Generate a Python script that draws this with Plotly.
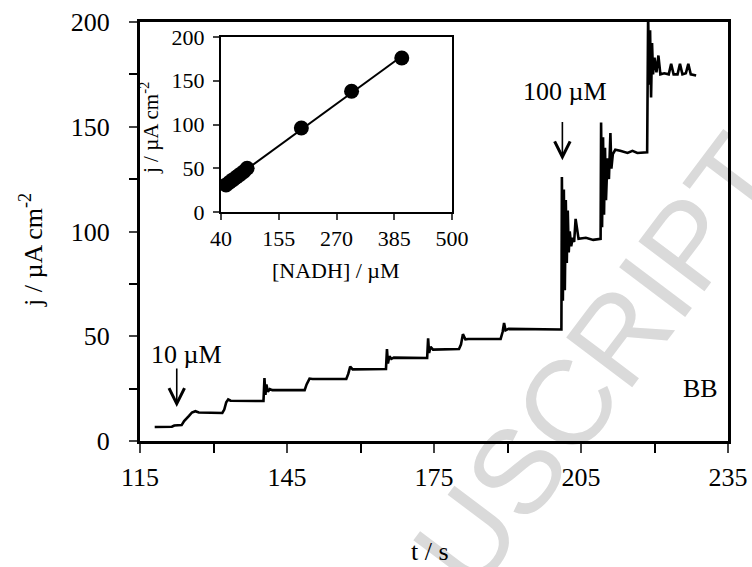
import plotly.graph_objects as go
import numpy as np

# ---------------- data ----------------
# main chronoamperogram (time in s, current density in uA cm-2)
t_s = [118.0, 121.5, 122.0, 123.5, 124.0, 124.5, 125.0, 125.6, 126.3, 127.0, 131.8,
       132.2, 132.6, 133.0, 133.5, 140.2,
       140.4, 140.6, 140.8, 141.1, 141.5, 142.0, 148.6,
       149.0, 149.6, 150.2, 157.1,
       157.5, 157.9, 158.4, 165.2,
       165.4, 165.6, 165.9, 166.3, 166.8, 173.6,
       173.8, 174.0, 174.3, 174.8, 180.1,
       180.5, 180.9, 181.4, 182.0, 188.6,
       189.0, 189.3, 189.6, 190.2, 201.0,
       201.1, 201.3, 201.5, 201.7, 201.9, 202.1, 202.3, 202.5, 202.7, 203.0, 203.3, 203.6,
       203.9, 204.5, 206.0, 207.5, 209.0,
       209.1, 209.3, 209.5, 209.7, 209.9, 210.1, 210.4, 210.7, 211.0, 211.2, 211.5, 212.0,
       213.0, 214.5, 215.5, 216.5, 218.5,
       218.7, 218.9, 219.1, 219.3, 219.5, 219.7, 220.0, 220.4, 220.8, 221.2, 222.0, 222.9,
       223.4, 223.9, 224.7, 225.2, 225.7, 226.4, 226.9, 227.4, 228.5]
j_vals = [6.7, 6.8, 7.4, 7.6, 9.5, 11.0, 12.0, 13.6, 14.2, 13.6, 13.4,
          15.0, 18.5, 19.8, 19.2, 19.1,
          30.0, 22.0, 27.0, 23.5, 24.8, 24.3, 24.3,
          27.0, 29.8, 29.6, 29.6,
          32.0, 35.5, 34.2, 34.4,
          43.9, 37.0, 40.5, 39.2, 39.8, 39.6,
          49.0, 42.0, 45.0, 43.6, 43.9,
          46.0, 51.0, 48.5, 48.7, 48.7,
          52.0, 56.3, 52.8, 53.5, 53.2,
          126.0, 67.0, 120.0, 72.0, 115.0, 85.0, 110.0, 90.0, 100.0, 93.0, 97.0, 95.0,
          106.0, 96.5, 97.0, 96.0, 96.5,
          152.0, 102.0, 145.0, 108.0, 140.0, 115.0, 135.0, 125.0, 147.0, 130.0, 137.0, 139.0,
          138.5, 137.5, 138.5, 137.5, 137.8,
          204.0, 170.0, 196.0, 164.0, 190.0, 175.0, 183.0, 176.0, 184.0, 175.0, 175.5, 175.0,
          180.0, 175.0, 175.0, 180.0, 175.0, 175.5, 180.0, 175.0, 174.5]

# inset calibration data
nadh_um = [50, 57, 64, 71, 78, 85, 92, 200, 300, 400]
j_cal = [31, 34, 37, 40, 43, 46, 50, 96, 138, 176]

main_xticks = [115, 145, 175, 205, 235]
main_yticks = [0, 50, 100, 150, 200]
inset_xticks = [40, 155, 270, 385, 500]
inset_yticks = [0, 50, 100, 150, 200]

# ---------------- figure ----------------
FONT = "Liberation Serif"
W, H = 752, 567
L, R, T, B = 140, 24, 22, 126
pw, ph = W - L - R, H - T - B

def px(xp):
    return (xp - L) / pw

def py(yp):
    return (H - B - yp) / ph

fig = go.Figure()

fig.add_trace(go.Scatter(x=t_s, y=j_vals, mode="lines",
                         line=dict(color="black", width=2.6),
                         xaxis="x", yaxis="y", showlegend=False, hoverinfo="skip"))

slope, icpt = np.polyfit(nadh_um, j_cal, 1)
fit_x = [min(nadh_um), max(nadh_um)]
fit_y = [slope * v + icpt for v in fit_x]
fig.add_trace(go.Scatter(x=fit_x, y=fit_y, mode="lines",
                         line=dict(color="black", width=2),
                         xaxis="x2", yaxis="y2", showlegend=False, hoverinfo="skip"))
fig.add_trace(go.Scatter(x=nadh_um, y=j_cal, mode="markers",
                         marker=dict(color="black", size=15),
                         xaxis="x2", yaxis="y2", showlegend=False, hoverinfo="skip"))

tick_main = dict(family=FONT, size=26, color="black")
tick_in = dict(family=FONT, size=22, color="black")

fig.update_layout(
    width=W, height=H,
    margin=dict(l=L, r=R, t=T, b=B, autoexpand=False),
    paper_bgcolor="white", plot_bgcolor="rgba(0,0,0,0)",
    font=dict(family=FONT, color="black"),
    xaxis=dict(range=[115, 235], tickvals=main_xticks, ticks="outside", ticklen=9, tickwidth=2,
               minor=dict(dtick=15, tick0=115, ticks="outside", ticklen=9, tickwidth=2, tickcolor="black"),
               showline=True, linewidth=3, linecolor="black", mirror=True, automargin=False,
               showgrid=False, zeroline=False, tickfont=tick_main, ticklabelstandoff=2),
    yaxis=dict(range=[0, 200], tickvals=main_yticks, ticks="outside", ticklen=8, tickwidth=2,
               minor=dict(dtick=25, tick0=0, ticks="outside", ticklen=8, tickwidth=2, tickcolor="black"),
               showline=True, linewidth=3, linecolor="black", mirror=True, automargin=False,
               showgrid=False, zeroline=False, tickfont=tick_main, ticklabelstandoff=14),
    xaxis2=dict(domain=[px(221), px(452)], anchor="y2", range=[40, 500], tickvals=inset_xticks,
                ticks="outside", ticklen=6, tickwidth=2, showline=True, linewidth=2,
                linecolor="black", mirror=True, showgrid=False, zeroline=False, tickfont=tick_in),
    yaxis2=dict(domain=[py(212), py(37)], anchor="x2", range=[0, 200], tickvals=inset_yticks,
                ticks="outside", ticklen=6, tickwidth=2, showline=True, linewidth=2,
                linecolor="black", mirror=True, showgrid=False, zeroline=False, tickfont=tick_in,
                ticklabelstandoff=4),
)

C = dict(xanchor="center", yanchor="middle", showarrow=False)
ann = []
# axis titles
ann.append(dict(text="t / s", xref="paper", yref="paper", x=px(430), y=py(551),
                font=dict(family=FONT, size=26), **C))
ann.append(dict(text="j / µA cm<sup>-2</sup>", xref="paper", yref="paper", x=px(31), y=py(250),
                textangle=-90, font=dict(family=FONT, size=26), **C))
ann.append(dict(text="[NADH] / µM", xref="paper", yref="paper", x=px(336), y=py(270),
                font=dict(family=FONT, size=22), **C))
ann.append(dict(text="j / µA cm<sup>-2</sup>", xref="paper", yref="paper", x=px(149), y=py(128),
                textangle=-90, font=dict(family=FONT, size=21), **C))
# labels in plot
ann.append(dict(text="10 µM", x=124.5, y=41.5, xref="x", yref="y",
                font=dict(family=FONT, size=26), **C))
ann.append(dict(text="100 µM", x=201.8, y=167, xref="x", yref="y",
                font=dict(family=FONT, size=26), **C))
ann.append(dict(text="BB", x=229.3, y=25.3, xref="x", yref="y",
                font=dict(family=FONT, size=26), **C))
# arrows
ann.append(dict(text="", x=122.5, y=16.2, ax=122.5, ay=35.3, xref="x", yref="y",
                axref="x", ayref="y", showarrow=True, arrowhead=5, arrowsize=1.9,
                arrowwidth=1.6, arrowcolor="black"))
ann.append(dict(text="", x=201.2, y=134, ax=201.2, ay=153, xref="x", yref="y",
                axref="x", ayref="y", showarrow=True, arrowhead=5, arrowsize=1.9,
                arrowwidth=1.6, arrowcolor="black"))
fig.update_layout(annotations=ann)

# watermark behind the data
fig.add_shape(type="line", xref="paper", yref="paper",
              x0=px(470), y0=py(515), x1=px(710), y1=py(195),
              line=dict(color="rgba(0,0,0,0)", width=0), layer="below",
              label=dict(text="USCRIPT", textposition="middle", textangle=-53,
                         xanchor="center", yanchor="middle",
                         font=dict(family="Liberation Sans", size=120,
                                   color="#dadada")))

fig.write_html("out.html")
